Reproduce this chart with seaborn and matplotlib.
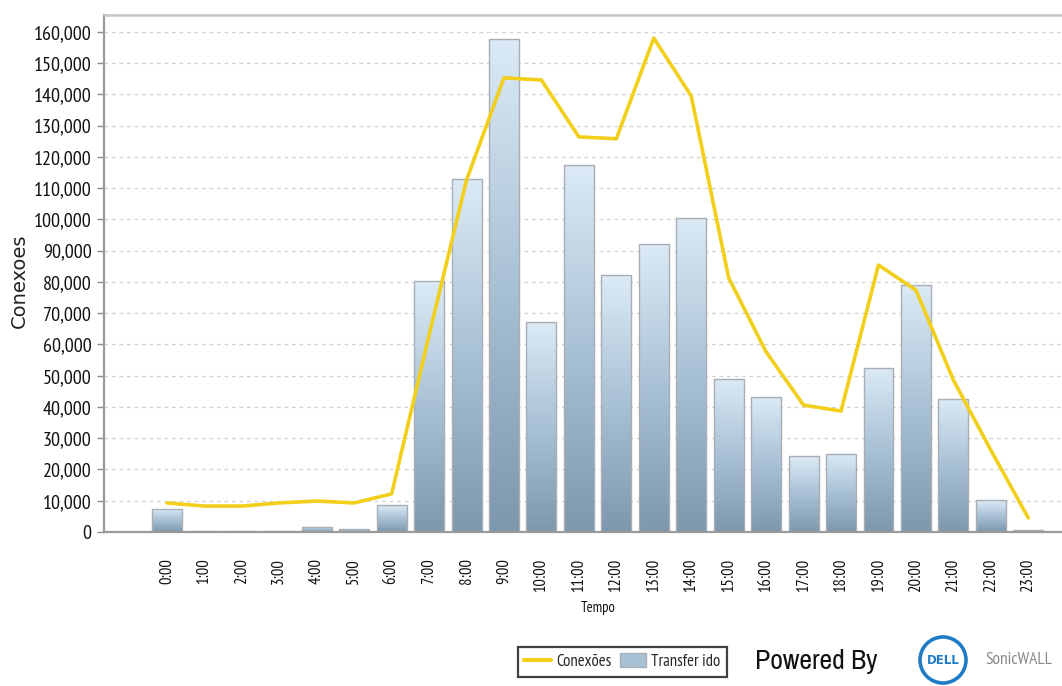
import numpy as np
import pandas as pd
import matplotlib
matplotlib.use("Agg")
import matplotlib.pyplot as plt
from matplotlib.lines import Line2D
from matplotlib.patches import Patch, Ellipse
from matplotlib.colors import LinearSegmentedColormap
import seaborn as sns

# Hourly traffic: connections (line) and transferred volume (bars)
horas = [f"{h}:00" for h in range(24)]
conexoes = [9300, 8300, 8300, 9300, 9900, 9300, 12200, 63000, 112600, 145300,
            144600, 126400, 125800, 158000, 139500, 81300, 57600, 40600, 38700,
            85400, 77400, 48600, 26200, 4500]
transferido = [7400, 300, 300, 300, 1600, 1000, 8600, 80300, 113000, 157800,
               67200, 117400, 82200, 92200, 100500, 49000, 43200, 24300, 25000,
               52500, 79000, 42600, 10200, 600]
yticks = list(range(0, 160001, 10000))

df = pd.DataFrame({"hora": horas, "conexoes": conexoes, "transferido": transferido})

sns.set_theme(style="white")
narrow = ["PT Sans Narrow", "DejaVu Sans"]
plt.rcParams["font.family"] = narrow

W, H = 1062, 686
fig = plt.figure(figsize=(W / 100, H / 100), dpi=100)
ax = fig.add_axes([104 / W, 1 - 532 / H, 1 - 104 / W, (532 - 15) / H])

sns.barplot(data=df, x="hora", y="transferido", ax=ax, color="#9fb8cc",
            width=0.8, saturation=1, edgecolor="#a8aeb4", linewidth=1.0, zorder=2)

# vertical light-to-dark fill inside each bar
grad_cmap = LinearSegmentedColormap.from_list("bar", ["#7d97ac", "#a9c1d5", "#dbeaf6"])
grad = np.linspace(0, 1, 256).reshape(-1, 1)
for p in list(ax.patches):
    x0, y0 = p.get_x(), p.get_y()
    w, h = p.get_width(), p.get_height()
    if h <= 0:
        continue
    im = ax.imshow(grad, cmap=grad_cmap, origin="lower", aspect="auto",
                   extent=(x0, x0 + w, y0, y0 + h), zorder=2.1,
                   interpolation="bilinear")
    im.set_clip_path(p)
    p.set_facecolor("none")
    p.set_zorder(2.2)

sns.pointplot(data=df, x="hora", y="conexoes", ax=ax, color="#f2cf1a",
              markers="", linewidth=2.6, zorder=3)

ax.set_xlim(-1.68, 23.9)
ax.set_ylim(0, 165400)
ax.set_yticks(yticks)
ax.set_yticklabels([f"{v:,}" for v in yticks], fontsize=14.5, color="#111111")
ax.set_xticks(range(24))
ax.set_xticklabels(horas, rotation=90, fontsize=12, color="#111111")
ax.tick_params(axis="y", left=True, length=5, width=1, color="#8a8a8a", pad=4)
ax.tick_params(axis="x", bottom=False, pad=13)
ax.set_xlabel("")
ax.set_ylabel("")

ax.yaxis.grid(True, color="#d2d2d2", linestyle=(0, (3, 3)), linewidth=0.9)
ax.xaxis.grid(False)
ax.set_axisbelow(True)
for side in ("left", "bottom", "top"):
    ax.spines[side].set_visible(True)
    ax.spines[side].set_color("#9a9a9a")
ax.spines["left"].set_linewidth(1.6)
ax.spines["bottom"].set_linewidth(1.6)
ax.spines["top"].set_linewidth(1.8)
ax.spines["top"].set_color("#c4c4c4")
ax.spines["right"].set_visible(False)

fig.text(19 / W, 1 - 281 / H, "Conexoes", rotation=90, ha="center", va="center",
         fontsize=14, color="#222222", family=["DejaVu Sans"])
fig.text(598 / W, 1 - 608 / H, "Tempo", ha="center", va="center", fontsize=10.5,
         color="#111111")

handles = [Line2D([0], [0], color="#f2cf1a", lw=3),
           Patch(facecolor="#a9c1d5", edgecolor="#a8aeb4")]
leg = fig.legend(handles, ["Conexões", "Transfer ido"], loc="center",
                 bbox_to_anchor=(622.5 / W, 1 - 661.5 / H), ncol=2,
                 fontsize=12, frameon=True, fancybox=False, handlelength=1.6,
                 handleheight=0.9, handletextpad=0.3, columnspacing=0.5,
                 borderpad=0.4, borderaxespad=0)
leg.get_frame().set_edgecolor("#111111")
leg.get_frame().set_linewidth(1.6)

fig.text(755 / W, 1 - 662 / H, "Powered By", ha="left", va="center",
         fontsize=20, color="#111111", family=["Archivo Narrow", "DejaVu Sans"])

# logo badge
lax = fig.add_axes([918 / W, 1 - 685 / H, 50 / W, 50 / H])
lax.set_xlim(0, 1)
lax.set_ylim(0, 1)
lax.axis("off")
lax.add_patch(Ellipse((0.5, 0.5), 0.92, 0.92, fill=False, edgecolor="#1f7cc4", lw=2.6))
lax.text(0.5, 0.5, "DELL", ha="center", va="center", fontsize=8.5,
         fontweight="bold", color="#1f7cc4", family=["DejaVu Sans"])
fig.text(985 / W, 1 - 660 / H, "SonicWALL", ha="left", va="center",
         fontsize=12.5, color="#8a8a8a")

fig.savefig("out.png", dpi=100)
